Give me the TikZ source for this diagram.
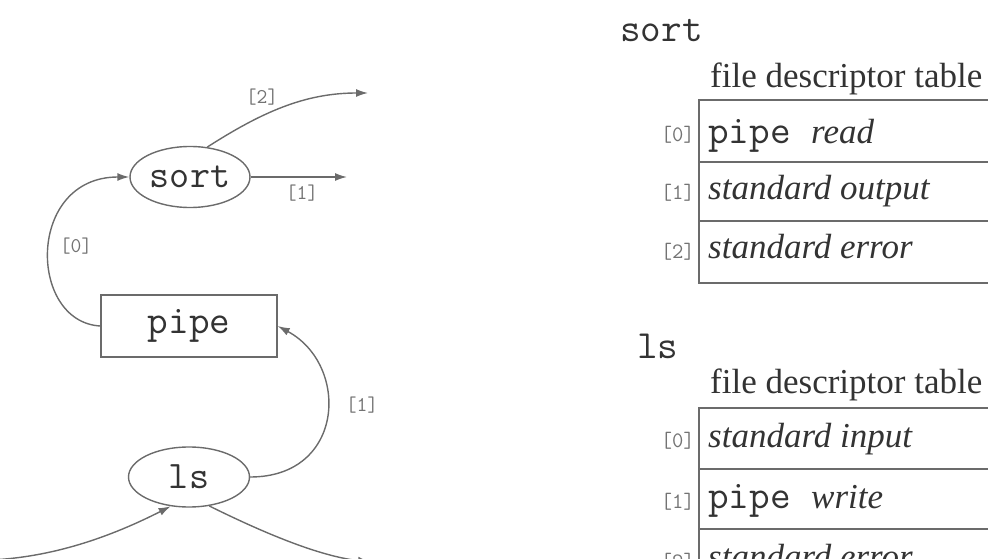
\documentclass[tikz,border=0pt]{standalone}
\usepackage{fontspec}
\setmainfont{Liberation Serif}
\usetikzlibrary{shapes.geometric,arrows.meta}
\definecolor{ink}{gray}{0.2}
\definecolor{wire}{gray}{0.42}
\definecolor{tag}{gray}{0.45}
\newcommand{\note}[1]{\textit{\rmfamily\fontsize{35}{35}\selectfont #1}}
\begin{document}
\begin{tikzpicture}
        [x=1pt, y=-1pt,
        proc/.style={ellipse, draw=wire, line width=1.4pt, inner sep=0pt, text=ink, font=\ttfamily\fontsize{39}{39}\selectfont},
        pipebox/.style={rectangle, draw=wire, line width=1.4pt, inner sep=0pt, text=ink, font=\ttfamily\fontsize{40}{40}\selectfont},
        fd/.style={inner sep=0pt, text=tag, font=\ttfamily\fontsize{21}{21}\selectfont},
        code/.style={inner sep=0pt, text=ink, anchor=base west, font=\ttfamily\fontsize{40}{40}\selectfont},
        txt/.style={inner sep=0pt, text=ink, anchor=base west, font=\fontsize{35}{35}\selectfont},
        row/.style={inner sep=0pt, anchor=base east, text=tag, font=\ttfamily\fontsize{22}{22}\selectfont},
        conn/.style={draw=wire, line width=1.4pt, -{Latex[length=12pt, width=8pt]}},
        grid/.style={draw=wire, line width=1.3pt}]
        \useasboundingbox (0,0) rectangle (988,559);
        \clip (0,0) rectangle (988,559);

        % processes and the pipe
        \node[proc, minimum width=120pt, minimum height=61pt] (sortp) at (190,177) {sort};
        \node[pipebox, minimum width=176pt, minimum height=62pt] (pipe) at (189,326) {pipe};
        \node[proc, minimum width=121pt, minimum height=60pt] (lsp) at (189,477) {ls};

        \coordinate (err) at (368,93);
        \coordinate (out) at (347,177);
        \coordinate (term) at (-10,560);
        \coordinate (lserr) at (370,562);

        \draw[conn] (pipe.west) .. controls (28,322) and (26,177) .. (sortp.west);
        \draw[conn] (sortp.60) .. controls (262,112) and (305,93) .. (err);
        \draw[conn] (sortp.east) -- (out);
        \draw[conn] (lsp.east) .. controls (345,477) and (350,365) .. (pipe.east);
        \draw[conn] (term) .. controls (60,557) and (120,532) .. (lsp.238);
        \draw[conn] (lsp.-55) .. controls (262,532) and (318,556) .. (lserr);

        \node[fd] (l0) at (76,246) {[0]};
        \node[fd] (l2) at (262,97) {[2]};
        \node[fd] (l1) at (302,193) {[1]};
        \node[fd] (l1b) at (362,405) {[1]};
        \node[fd] (l0b) at (103,570) {[0]};
        \node[fd] (l2b) at (283,570) {[2]};

        % sort table
        \node[code] (sortt) at (620,42) {sort};
        \node[txt] (sorth) at (710,88) {file descriptor table};
        \draw[grid] (1000,100) -- (699,100) -- (699,283) -- (1000,283);
        \draw[grid] (699,162) -- (1000,162);
        \draw[grid] (699,221) -- (1000,221);
        \node[row] (s0) at (695,142) {[0]};
        \node[row] (s1) at (695,200) {[1]};
        \node[row] (s2) at (695,258) {[2]};
        \node[code] (s0t) at (708,143) {pipe \note{read}};
        \node[txt] (s1t) at (708,200) {\textit{standard output}};
        \node[txt] (s2t) at (708,258) {\textit{standard error}};

        % ls table
        \node[code] (lst) at (637,358) {ls};
        \node[txt] (lsh) at (710,393) {file descriptor table};
        \draw[grid] (1000,408) -- (699,408) -- (699,600);
        \draw[grid] (699,469) -- (1000,469);
        \draw[grid] (699,529) -- (1000,529);
        \node[row] (t0) at (695,447) {[0]};
        \node[row] (t1) at (695,508) {[1]};
        \node[row] (t2) at (695,568) {[2]};
        \node[txt] (t0t) at (708,447) {\textit{standard input}};
        \node[code] (t1t) at (708,508) {pipe \note{write}};
        \node[txt] (t2t) at (708,568) {\textit{standard error}};
    \end{tikzpicture}
\end{document}
